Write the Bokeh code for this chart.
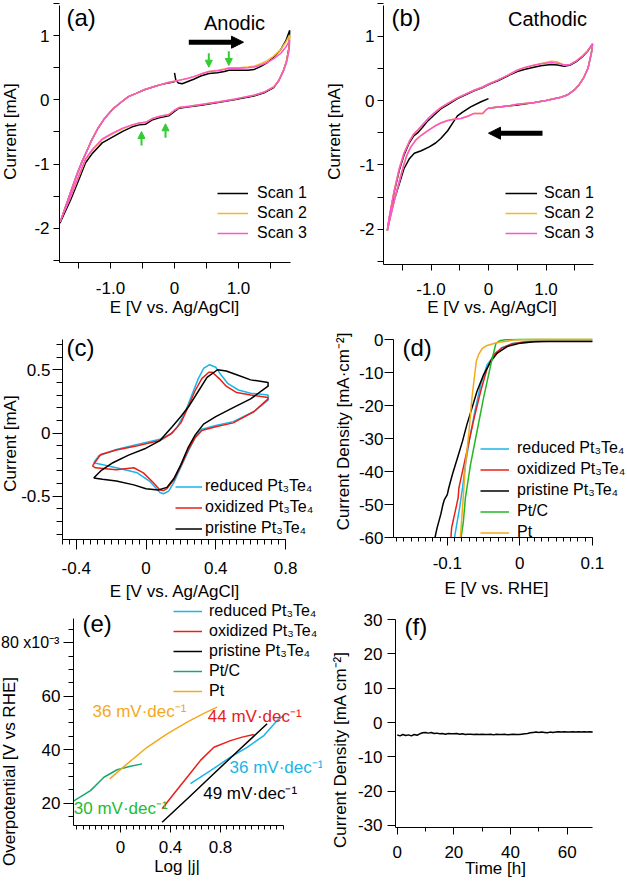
from bokeh.plotting import figure
from bokeh.models import Range1d, FixedTicker, Legend, LegendItem, Label, Arrow, NormalHead
from bokeh.layouts import row, column
from bokeh.embed import file_html
from bokeh.resources import INLINE

FONT = "Liberation Sans"
BLACK = "#000000"
ORANGE_SCAN = "#f7b62a"
PINK = "#ff55cc"
CYAN = "#1ab4e8"
RED = "#e8201a"
GREEN_D = "#22b822"
GREEN_E = "#1aa86e"
GREEN_TXT = "#22bb33"
GOLD = "#f5a81c"
ARROW_GREEN = "#33cc33"

# ---------------- (a) anodic CV scans ----------------
a_scan1_E = [0.0, 0.02, 0.06, 0.12, 0.2, 0.3, 0.41, 0.54, 0.67, 0.78, 0.85, 1.0, 1.15, 1.24, 1.35, 1.45, 1.55, 1.66, 1.74, 1.8,
             1.79, 1.75, 1.7, 1.63, 1.55, 1.4, 1.24, 1.03, 0.93, 0.7, 0.44, 0.23, 0.07, -0.01, -0.09, -0.24, -0.34, -0.45, -0.55,
             -0.66, -0.81, -0.97, -1.13, -1.28, -1.39, -1.49, -1.62, -1.75, -1.79,
             -1.75, -1.68, -1.6, -1.52, -1.44, -1.38, -1.3, -1.2, -1.1, -0.97, -0.85, -0.72, -0.6, -0.46, -0.3, -0.2, -0.1, 0.0]
a_scan1_I = [0.42, 0.31, 0.26, 0.25, 0.28, 0.32, 0.37, 0.41, 0.42, 0.44, 0.46, 0.46, 0.46, 0.47, 0.52, 0.58, 0.66, 0.78, 0.92, 1.08,
             0.82, 0.6, 0.45, 0.3, 0.19, 0.11, 0.06, 0.02, 0.0, -0.04, -0.08, -0.11, -0.13, -0.19, -0.25, -0.28, -0.31, -0.38, -0.39,
             -0.42, -0.49, -0.58, -0.67, -0.83, -0.98, -1.23, -1.55, -1.83, -1.92,
             -1.8, -1.6, -1.37, -1.15, -0.95, -0.82, -0.64, -0.45, -0.3, -0.15, -0.05, 0.05, 0.1, 0.16, 0.21, 0.24, 0.26, 0.28]
a_scan2_E = [0.0, 0.1, 0.2, 0.3, 0.41, 0.54, 0.67, 0.78, 0.85, 1.0, 1.15, 1.24, 1.35, 1.45, 1.55, 1.66, 1.74, 1.8,
             1.79, 1.75, 1.7, 1.63, 1.55, 1.4, 1.24, 1.03, 0.93, 0.7, 0.44, 0.23, 0.07, -0.01, -0.09, -0.24, -0.34, -0.45, -0.55,
             -0.66, -0.81, -0.97, -1.13, -1.28, -1.39, -1.49, -1.62, -1.75, -1.79,
             -1.75, -1.68, -1.6, -1.52, -1.44, -1.38, -1.3, -1.2, -1.1, -0.97, -0.85, -0.72, -0.6, -0.46, -0.3, -0.2, -0.1, 0.0]
a_scan2_I = [0.29, 0.31, 0.33, 0.36, 0.4, 0.44, 0.46, 0.48, 0.5, 0.5, 0.51, 0.52, 0.56, 0.61, 0.68, 0.78, 0.9, 1.01,
             0.8, 0.6, 0.45, 0.3, 0.2, 0.12, 0.07, 0.03, 0.01, -0.03, -0.07, -0.1, -0.12, -0.17, -0.23, -0.26, -0.29, -0.35, -0.36,
             -0.39, -0.45, -0.53, -0.62, -0.78, -0.93, -1.18, -1.5, -1.8, -1.9,
             -1.8, -1.6, -1.37, -1.15, -0.95, -0.82, -0.64, -0.45, -0.3, -0.15, -0.05, 0.05, 0.1, 0.16, 0.21, 0.24, 0.27, 0.29]
a_scan3_E = [0.0, 0.1, 0.2, 0.3, 0.41, 0.54, 0.67, 0.78, 0.85, 1.0, 1.15, 1.24, 1.35, 1.45, 1.55, 1.66, 1.74, 1.8,
             1.79, 1.75, 1.7, 1.63, 1.55, 1.4, 1.24, 1.03, 0.93, 0.7, 0.44, 0.23, 0.07, -0.01, -0.09, -0.24, -0.34, -0.45, -0.55,
             -0.66, -0.81, -0.97, -1.13, -1.28, -1.39, -1.49, -1.62, -1.75, -1.79,
             -1.75, -1.68, -1.6, -1.52, -1.44, -1.38, -1.3, -1.2, -1.1, -0.97, -0.85, -0.72, -0.6, -0.46, -0.3, -0.2, -0.1, 0.0]
a_scan3_I = [0.29, 0.31, 0.33, 0.36, 0.4, 0.44, 0.45, 0.47, 0.49, 0.49, 0.5, 0.51, 0.54, 0.58, 0.64, 0.72, 0.82, 0.93,
             0.76, 0.58, 0.44, 0.3, 0.2, 0.12, 0.07, 0.03, 0.01, -0.03, -0.07, -0.1, -0.12, -0.17, -0.23, -0.26, -0.29, -0.35, -0.36,
             -0.39, -0.44, -0.52, -0.61, -0.77, -0.92, -1.17, -1.5, -1.8, -1.9,
             -1.8, -1.6, -1.37, -1.15, -0.95, -0.82, -0.64, -0.45, -0.3, -0.15, -0.05, 0.05, 0.1, 0.16, 0.21, 0.24, 0.27, 0.29]

# ---------------- (b) cathodic CV scans ----------------
b_scan1_E = [0.0, -0.13, -0.31, -0.45, -0.54, -0.63, -0.71, -0.83, -0.92, -1.03, -1.17, -1.29, -1.38, -1.47, -1.55, -1.64, -1.71, -1.76,
             -1.72, -1.64, -1.55, -1.47, -1.38, -1.3, -1.23, -1.15, -1.06, -0.95, -0.83, -0.7, -0.54, -0.4, -0.25, -0.1, 0.01, 0.17,
             0.33, 0.5, 0.62, 0.75, 0.91, 1.09, 1.2, 1.32, 1.42, 1.52, 1.62, 1.72, 1.81,
             1.79, 1.73, 1.66, 1.58, 1.49, 1.38, 1.26, 1.1, 1.0, 0.8, 0.5, 0.3, 0.1, 0.0]
b_scan1_I = [0.03, -0.02, -0.1, -0.18, -0.24, -0.36, -0.47, -0.59, -0.66, -0.72, -0.78, -0.82, -0.91, -1.06, -1.29, -1.55, -1.81, -2.02,
             -1.8, -1.42, -1.08, -0.85, -0.66, -0.55, -0.5, -0.42, -0.32, -0.23, -0.13, -0.06, 0.03, 0.09, 0.15, 0.2, 0.25, 0.31,
             0.38, 0.45, 0.48, 0.51, 0.54, 0.56, 0.55, 0.53, 0.55, 0.6, 0.67, 0.76, 0.88,
             0.74, 0.5, 0.36, 0.25, 0.16, 0.09, 0.05, 0.02, 0.0, -0.03, -0.07, -0.09, -0.11, -0.12]
b_scan2_E = [0.0, -0.05, -0.1, -0.15, -0.25, -0.35, -0.48, -0.6, -0.71, -0.83, -0.94, -1.06, -1.17, -1.26, -1.35, -1.42, -1.47, -1.55,
             -1.61, -1.69, -1.76,
             -1.72, -1.64, -1.55, -1.47, -1.38, -1.3, -1.23, -1.15, -1.06, -0.95, -0.83, -0.7, -0.54, -0.4, -0.25, -0.1, 0.01, 0.17,
             0.33, 0.5, 0.62, 0.75, 0.91, 1.09, 1.2, 1.32, 1.42, 1.52, 1.62, 1.72, 1.81,
             1.79, 1.73, 1.66, 1.58, 1.49, 1.38, 1.26, 1.1, 1.0, 0.8, 0.5, 0.3, 0.1, 0.0]
b_scan2_I = [-0.12, -0.15, -0.2, -0.2, -0.2, -0.24, -0.28, -0.29, -0.31, -0.35, -0.4, -0.47, -0.54, -0.61, -0.72, -0.85, -0.99, -1.25,
             -1.45, -1.75, -2.02,
             -1.78, -1.4, -1.05, -0.82, -0.64, -0.52, -0.46, -0.38, -0.29, -0.2, -0.11, -0.04, 0.04, 0.1, 0.16, 0.21, 0.26, 0.32,
             0.39, 0.47, 0.51, 0.54, 0.57, 0.61, 0.6, 0.55, 0.56, 0.61, 0.68, 0.77, 0.88,
             0.74, 0.5, 0.36, 0.25, 0.16, 0.09, 0.05, 0.02, 0.0, -0.03, -0.06, -0.09, -0.11, -0.12]
b_scan3_E = [0.0, -0.05, -0.1, -0.15, -0.25, -0.35, -0.48, -0.6, -0.71, -0.83, -0.94, -1.06, -1.17, -1.26, -1.35, -1.42, -1.47, -1.55,
             -1.61, -1.69, -1.76,
             -1.72, -1.64, -1.55, -1.47, -1.38, -1.3, -1.23, -1.15, -1.06, -0.95, -0.83, -0.7, -0.54, -0.4, -0.25, -0.1, 0.01, 0.17,
             0.33, 0.5, 0.62, 0.75, 0.91, 1.09, 1.2, 1.32, 1.42, 1.52, 1.62, 1.72, 1.81,
             1.79, 1.73, 1.66, 1.58, 1.49, 1.38, 1.26, 1.1, 1.0, 0.8, 0.5, 0.3, 0.1, 0.0]
b_scan3_I = [-0.12, -0.15, -0.2, -0.2, -0.2, -0.24, -0.28, -0.29, -0.31, -0.35, -0.4, -0.47, -0.54, -0.61, -0.72, -0.85, -0.99, -1.25,
             -1.45, -1.75, -2.02,
             -1.78, -1.4, -1.05, -0.82, -0.64, -0.52, -0.46, -0.38, -0.29, -0.2, -0.11, -0.04, 0.04, 0.1, 0.16, 0.21, 0.26, 0.32,
             0.39, 0.47, 0.51, 0.54, 0.57, 0.59, 0.58, 0.55, 0.56, 0.61, 0.68, 0.77, 0.88,
             0.74, 0.5, 0.36, 0.25, 0.16, 0.09, 0.05, 0.02, 0.0, -0.03, -0.06, -0.09, -0.11, -0.12]

# ---------------- (c) CV of Pt3Te4 samples ----------------
c_red_E = [-0.3, -0.27, -0.17, -0.05, 0.08, 0.14, 0.18, 0.22, 0.26, 0.3, 0.33, 0.365, 0.4, 0.43, 0.47, 0.53, 0.6, 0.7,
           0.7, 0.62, 0.5, 0.4, 0.32, 0.28, 0.24, 0.2, 0.16, 0.13, 0.1, 0.08, 0.02, -0.05, -0.17, -0.3]
c_red_I = [-0.235, -0.18, -0.13, -0.09, -0.05, -0.01, 0.05, 0.15, 0.29, 0.43, 0.51, 0.54, 0.52, 0.46, 0.39, 0.34, 0.315, 0.3,
           0.26, 0.17, 0.09, 0.06, 0.03, -0.04, -0.15, -0.27, -0.39, -0.46, -0.48, -0.47, -0.38, -0.315, -0.275, -0.235]
c_ox_E = [-0.307, -0.26, -0.17, -0.05, 0.08, 0.15, 0.2, 0.24, 0.28, 0.32, 0.36, 0.38, 0.42, 0.46, 0.52, 0.6, 0.7,
          0.7, 0.62, 0.5, 0.4, 0.32, 0.28, 0.24, 0.2, 0.16, 0.12, 0.1, 0.08, 0.04, -0.015, -0.07, -0.17, -0.29, -0.307]
c_ox_I = [-0.26, -0.17, -0.135, -0.1, -0.06, 0.0, 0.08, 0.2, 0.33, 0.43, 0.48, 0.48, 0.43, 0.37, 0.32, 0.3, 0.28,
          0.27, 0.17, 0.08, 0.05, 0.02, -0.04, -0.14, -0.26, -0.37, -0.44, -0.455, -0.45, -0.39, -0.315, -0.275, -0.29, -0.275, -0.26]
c_pris_E = [-0.3, -0.26, -0.19, -0.1, 0.0, 0.08, 0.15, 0.2, 0.25, 0.3, 0.35, 0.41, 0.46, 0.52, 0.6, 0.7,
            0.7, 0.6, 0.5, 0.4, 0.33, 0.28, 0.24, 0.2, 0.16, 0.12, 0.07, 0.0, -0.07, -0.17, -0.25, -0.3]
c_pris_I = [-0.355, -0.3, -0.235, -0.175, -0.12, -0.06, 0.05, 0.13, 0.22, 0.33, 0.44, 0.5, 0.49, 0.46, 0.42, 0.4,
            0.37, 0.27, 0.2, 0.13, 0.07, -0.02, -0.12, -0.25, -0.36, -0.43, -0.45, -0.44, -0.41, -0.38, -0.365, -0.355]

# ---------------- (d) LSV polarisation curves ----------------
d_red_E = [0.1, 0.03, 0.01, -0.01, -0.025, -0.036, -0.045, -0.054, -0.062, -0.069, -0.075, -0.079, -0.083, -0.087, -0.09]
d_red_J = [-0.5, -0.5, -0.6, -1.2, -2.5, -5.0, -7.6, -13.7, -21.8, -29.8, -37.9, -44.9, -51.0, -56.0, -60.0]
d_ox_E = [0.1, 0.03, 0.01, -0.01, -0.025, -0.036, -0.045, -0.054, -0.063, -0.07, -0.077, -0.082, -0.084, -0.085, -0.089, -0.091,
          -0.092, -0.094, -0.095]
d_ox_J = [-0.5, -0.5, -0.7, -1.3, -2.6, -4.6, -8.7, -15.7, -23.8, -30.8, -37.9, -42.9, -45.0, -47.9, -52.0, -54.0, -55.0, -57.0, -60.0]
d_pris_E = [0.1, 0.04, 0.02, 0.001, -0.017, -0.031, -0.04, -0.05, -0.059, -0.066, -0.073, -0.079, -0.086, -0.093, -0.098, -0.1,
            -0.104, -0.106, -0.109, -0.114, -0.117]
d_pris_J = [-0.6, -0.6, -0.7, -1.1, -2.1, -4.1, -6.6, -10.7, -15.7, -20.8, -25.8, -30.8, -35.9, -40.9, -45.0, -47.0, -48.5, -50.0,
            -53.0, -57.0, -60.0]
d_ptc_E = [0.1, 0.0, -0.02, -0.028, -0.033, -0.04, -0.05, -0.059, -0.068, -0.075, -0.078, -0.081]
d_ptc_J = [0.0, 0.0, -0.1, -0.4, -1.2, -7.6, -17.7, -27.8, -37.9, -47.9, -55.6, -60.0]
d_pt_E = [0.1, 0.02, 0.0, -0.009, -0.017, -0.031, -0.045, -0.052, -0.0565, -0.06, -0.066, -0.07, -0.075, -0.078, -0.082]
d_pt_J = [0.0, 0.0, -0.05, -0.15, -0.5, -0.9, -1.8, -2.8, -4.4, -6.6, -17.7, -27.8, -37.9, -47.9, -60.0]

# ---------------- (e) Tafel plots (overpotential in 1e-3 V) ----------------
e_red_logj = [0.56, 0.72, 0.88, 1.013, 1.147, 1.253, 1.307]
e_red_eta = [27.3, 32.2, 37.2, 40.9, 45.3, 50.9, 52.8]
e_ox_logj = [0.333, 0.427, 0.533, 0.64, 0.747, 0.88, 0.973, 1.067]
e_ox_eta = [17.9, 23.5, 29.7, 36.0, 40.9, 43.4, 44.7, 45.7]
e_pris_logj = [0.333, 0.55, 0.75, 0.95, 1.173]
e_pris_eta = [12.9, 22.3, 31.2, 40.0, 49.7]
e_ptc_logj = [-0.373, -0.24, -0.133, -0.027, 0.08, 0.173]
e_ptc_eta = [20.9, 24.7, 29.7, 32.5, 33.8, 34.7]
e_pt_logj = [-0.086, 0.053, 0.213, 0.373, 0.533, 0.667, 0.773]
e_pt_eta = [29.1, 34.7, 40.9, 45.9, 50.3, 53.6, 55.9]

# ---------------- (f) stability test ----------------
f_time = [0, 1, 2, 3, 4, 5, 6, 7, 8, 9, 10, 11, 12, 13, 14, 15, 16, 17, 18, 19, 20, 21, 22, 23, 24, 25, 26, 27, 28, 29,
          30, 31, 32, 33, 34, 35, 36, 37, 38, 39, 40, 41, 42, 43, 44, 45, 46, 47, 48, 49, 50, 51, 52, 53, 54, 55, 56, 57, 58, 59,
          60, 61, 62, 63, 64, 65, 66, 67, 68, 69]
f_current = [-3.6, -3.9, -3.5, -3.8, -3.6, -3.9, -3.5, -3.7, -3.3, -3.0, -2.9, -3.1, -2.9, -3.2, -3.1, -3.3, -3.2, -3.4, -3.2, -3.3,
             -3.3, -3.2, -3.4, -3.3, -3.5, -3.4, -3.4, -3.5, -3.4, -3.5, -3.4, -3.5, -3.5, -3.4, -3.6, -3.4, -3.5, -3.5, -3.4, -3.6,
             -3.5, -3.4, -3.5, -3.5, -3.4, -3.3, -3.2, -3.0, -2.9, -2.8, -2.9, -2.8, -2.9, -3.0, -2.8, -2.9, -2.8, -2.7, -2.8, -2.7,
             -2.8, -2.8, -2.7, -2.8, -2.7, -2.8, -2.7, -2.8, -2.7, -2.8]

LEG_PT = ["reduced Pt\u2083Te\u2084", "oxidized Pt\u2083Te\u2084", "pristine Pt\u2083Te\u2084", "Pt/C", "Pt"]
SCANS = ["Scan 1", "Scan 2", "Scan 3"]
LW = 1.5


class Panel:
    """One figure whose frame fills its whole canvas; axes are drawn at fixed places inside it."""

    def __init__(self, ox, oy, W, H, xpx, xval, xs, ypx, yval, ys):
        self.ox, self.oy, self.W, self.H = ox, oy, W, H
        self.xpx, self.xval, self.xs = xpx, xval, xs
        self.ypx, self.yval, self.ys = ypx, yval, ys
        xr = (self.dx(ox), self.dx(ox + W))
        yr = (self.dy(oy + H), self.dy(oy))
        p = figure(width=W, height=H, x_range=Range1d(*xr), y_range=Range1d(*yr), min_border=0,
                   output_backend="svg", toolbar_location=None, tools="")
        p.outline_line_color = None
        p.xgrid.visible = False
        p.ygrid.visible = False
        for ax in (p.xaxis[0], p.yaxis[0]):
            ax.axis_line_color = "black"
            ax.axis_line_width = 1
            ax.major_tick_line_color = "black"
            ax.minor_tick_line_color = "black"
            ax.major_tick_in = 0
            ax.minor_tick_in = 0
            ax.major_label_text_font = FONT
            ax.major_label_text_font_size = "17px"
            ax.major_label_text_color = "black"
        self.p = p

    # page pixel -> data value
    def dx(self, px):
        return self.xval + (px - self.xpx) / self.xs

    def dy(self, py):
        return self.yval - (py - self.ypx) / self.ys

    def axes(self, x_left_px, x_right_px, y_bottom_px, y_top_px):
        p = self.p
        p.xaxis[0].fixed_location = self.dy(y_bottom_px)
        p.xaxis[0].bounds = (self.dx(x_left_px), self.dx(x_right_px))
        p.yaxis[0].fixed_location = self.dx(x_left_px)
        p.yaxis[0].bounds = (self.dy(y_bottom_px), self.dy(y_top_px))

    def text(self, px, py, s, size="17px", color="black", align="left", angle=0):
        self.p.add_layout(Label(x=px - self.ox, y=self.oy + self.H - py, x_units="screen", y_units="screen",
                                text=s, text_font=FONT, text_font_size=size, text_color=color,
                                text_align=align, text_baseline="middle", angle=angle, angle_units="deg"))

    def legend(self, items, left_px, bottom_px, gw, standoff, rh):
        lg = Legend(items=[LegendItem(label=l, renderers=[r]) for l, r in items],
                    location=(left_px - self.ox, self.oy + self.H - bottom_px),
                    orientation="vertical", glyph_width=gw, glyph_height=rh, label_height=rh,
                    label_standoff=standoff, spacing=0, padding=0, margin=0,
                    label_text_font=FONT, label_text_font_size="16px", label_text_color="black",
                    background_fill_alpha=0, border_line_alpha=0)
        self.p.add_layout(lg)

    def arrow(self, x0, y0, x1, y1, color, width, head):
        self.p.add_layout(Arrow(x_start=self.dx(x0), y_start=self.dy(y0), x_end=self.dx(x1), y_end=self.dy(y1),
                                start=None, line_width=width, line_color=color, line_alpha=1 if width else 0,
                                end=NormalHead(size=head, fill_color=color, line_color=color) if head else None))


def fmt(v, nd):
    """Igor-style tick text with an ASCII hyphen for negatives."""
    if v == 0:
        return "0"
    s = ("%." + str(nd) + "f") % abs(v)
    return ("-" if v < 0 else "") + s


def ticks(ax, major, minor, tout, mout, standoff, nd=0, blank=()):
    ax.ticker = FixedTicker(ticks=major, minor_ticks=minor)
    ax.major_tick_out = tout
    ax.minor_tick_out = mout
    ax.major_label_standoff = standoff
    ax.major_label_overrides = {v: ("" if v in blank else fmt(v, nd)) for v in major}


def steps(a, b, s, nd):
    out, k = [], 0
    while True:
        v = round(a + k * s, nd)
        if v > b + 1e-9:
            break
        out.append(v)
        k += 1
    return out


# layout grid (page pixels)
R1, R2, R3, BOTTOM = 0, 318, 601, 880
L1, L2, L3 = 312, 322, 322
RIGHT = 626

# ---------------- panel (a) ----------------
A = Panel(0, R1, L1, R2 - R1, 174, 0, 64, 99.3, 0, 64.3)
A.axes(59, 290, 262, 5)
ticks(A.p.xaxis[0], [-1, 0, 1], [-1.5, -0.5, 0.5, 1.5], 6, 6, 13, nd=1)
ticks(A.p.yaxis[0], [-2, -1, 0, 1], [-2.5, -1.5, -0.5, 0.5, 1.5], 6, 6, 4)
ra1 = A.p.line(a_scan1_E, a_scan1_I, line_color=BLACK, line_width=LW)
ra2 = A.p.line(a_scan2_E, a_scan2_I, line_color=ORANGE_SCAN, line_width=LW)
ra3 = A.p.line(a_scan3_E, a_scan3_I, line_color=PINK, line_width=LW)
A.legend(list(zip(SCANS, [ra1, ra2, ra3])), 217, 243, 31, 9, 20)
A.text(10, 131, "Current [mA]", angle=90, align="center")
A.text(174.5, 307, "E [V vs. Ag/AgCl]", align="center")
A.text(66, 17, "(a)", size="24px")
A.text(234, 22.5, "Anodic", size="20px", align="center")
A.arrow(188.3, 41.7, 234, 41.7, "black", 5, 0)
A.arrow(228, 41.7, 243, 41.7, "black", 0, 12)
for (x0, y0, x1, y1) in [(208.3, 52.7, 208.3, 66.7), (228.3, 50.7, 228.3, 65.0),
                         (141.0, 145.0, 141.0, 131.0), (165.0, 137.3, 165.0, 123.3)]:
    A.arrow(x0, y0, x1, y1, ARROW_GREEN, 2, 7)

# ---------------- panel (b) ----------------
B = Panel(L1, R1, RIGHT - L1, R2 - R1, 488, 0, 57.5, 100, 0, 64.4)
B.axes(383, 593, 264, 5)
ticks(B.p.xaxis[0], [-1, 0, 1], [-1.5, -0.5, 0.5, 1.5], 6, 6, 12, nd=1)
ticks(B.p.yaxis[0], [-2, -1, 0, 1], [-2.5, -1.5, -0.5, 0.5, 1.5], 6, 6, 3)
rb1 = B.p.line(b_scan1_E, b_scan1_I, line_color=BLACK, line_width=LW)
rb2 = B.p.line(b_scan2_E, b_scan2_I, line_color=ORANGE_SCAN, line_width=LW)
rb3 = B.p.line(b_scan3_E, b_scan3_I, line_color=PINK, line_width=LW)
B.legend(list(zip(SCANS, [rb1, rb2, rb3])), 505, 243, 32, 7, 20)
B.text(333.5, 131, "Current [mA]", angle=90, align="center")
B.text(492, 307, "E [V vs. Ag/AgCl]", align="center")
B.text(391, 17, "(b)", size="24px")
B.text(547, 18.5, "Cathodic", size="20px", align="center")
B.arrow(542, 132.7, 497, 132.7, "black", 5, 0)
B.arrow(503, 132.7, 488, 132.7, "black", 0, 12)

# ---------------- panel (c) ----------------
C = Panel(0, R2, L2, R3 - R2, 145.5, 0, 174.4, 432.5, 0, 126.5)
C.axes(62, 285, 539, 339)
ticks(C.p.xaxis[0], [-0.4, 0, 0.4, 0.8], steps(-0.48, 0.8, 0.04, 2), 10, 5, 12, nd=1)
ticks(C.p.yaxis[0], [-0.5, 0, 0.5], steps(-0.8, 0.7, 0.1, 1), 10, 6, 2, nd=1)
rc1 = C.p.line(c_red_E, c_red_I, line_color=CYAN, line_width=LW)
rc2 = C.p.line(c_ox_E, c_ox_I, line_color=RED, line_width=LW)
rc3 = C.p.line(c_pris_E, c_pris_I, line_color=BLACK, line_width=LW)
C.legend(list(zip(LEG_PT[:3], [rc1, rc2, rc3])), 175, 538.5, 27, 3, 21)
C.text(9.5, 443, "Current [mA]", angle=90, align="center")
C.text(174.5, 591, "E [V vs. Ag/AgCl]", align="center")
C.text(66, 347, "(c)", size="24px")

# ---------------- panel (d) ----------------
D = Panel(L2, R2, RIGHT - L2, R3 - R2, 519.3, 0, 725, 339, 0, 3.3)
D.axes(393, 592, 537, 339)
ticks(D.p.xaxis[0], [-0.1, 0, 0.1], steps(-0.17, 0.1, 0.01, 2), 8, 4, 11, nd=1)
ticks(D.p.yaxis[0], [-60, -50, -40, -30, -20, -10, 0], [], 9, 0, 1)
rd1 = D.p.line(d_red_E, d_red_J, line_color=CYAN, line_width=LW)
rd2 = D.p.line(d_ox_E, d_ox_J, line_color=RED, line_width=LW)
rd3 = D.p.line(d_pris_E, d_pris_J, line_color=BLACK, line_width=LW)
rd4 = D.p.line(d_ptc_E, d_ptc_J, line_color=GREEN_D, line_width=LW)
rd5 = D.p.line(d_pt_E, d_pt_J, line_color=GOLD, line_width=LW)
D.legend(list(zip(LEG_PT, [rd1, rd2, rd3, rd4, rd5])), 480, 542.8, 29, 8, 21)
D.text(343, 431, "Current Density [mA\u00b7cm\u207b\u00b2]", angle=90, align="center")
D.text(496, 588, "E [V vs. RHE]", align="center")
D.text(402, 347, "(d)", size="24px")

# ---------------- panel (e) ----------------
E = Panel(0, R3, L3, BOTTOM - R3, 120, 0, 125, 642.2, 80, 2.675)
E.axes(73, 283, 825, 618)
ticks(E.p.xaxis[0], [0, 0.4, 0.8], steps(-0.35, 1.3, 0.05, 2), 7, 4, 8, nd=1)
ticks(E.p.yaxis[0], [20, 40, 60, 80], steps(15, 85, 5, 0), 10, 5, 3, blank=(80,))
re1 = E.p.line(e_red_logj, e_red_eta, line_color=CYAN, line_width=LW)
re2 = E.p.line(e_ox_logj, e_ox_eta, line_color=RED, line_width=LW)
re3 = E.p.line(e_pris_logj, e_pris_eta, line_color=BLACK, line_width=LW)
re4 = E.p.line(e_ptc_logj, e_ptc_eta, line_color=GREEN_E, line_width=LW)
re5 = E.p.line(e_pt_logj, e_pt_eta, line_color=GOLD, line_width=LW)
E.legend(list(zip(LEG_PT, [re1, re2, re3, re4, re5])), 173, 701, 29, 7, 20)
E.text(0.5, 642.2, "80 x10\u207b\u00b3", size="16px")
E.text(9, 771, "Overpotential [V vs RHE]", angle=90, align="center")
E.text(176.5, 866, "Log |j|", align="center")
E.text(82, 623, "(e)", size="24px")
E.text(92, 710.7, "36 mV\u00b7dec\u207b\u00b9", color=GOLD)
E.text(207.3, 716, "44 mV\u00b7dec\u207b\u00b9", color=RED)
E.text(229, 766.7, "36 mV\u00b7dec\u207b\u00b9", color=CYAN)
E.text(202.7, 793.3, "49 mV\u00b7dec\u207b\u00b9", color=BLACK)
E.text(73.3, 808.3, "30 mV\u00b7dec\u207b\u00b9", color=GREEN_TXT)

# ---------------- panel (f) ----------------
F = Panel(L3, R3, RIGHT - L3, BOTTOM - R3, 396.7, 0, 2.833, 722, 0, 3.433)
F.axes(395, 592, 826.7, 619)
ticks(F.p.xaxis[0], [0, 20, 40, 60], [10, 30, 50], 7, 4, 12)
ticks(F.p.yaxis[0], [-30, -20, -10, 0, 10, 20, 30], [], 8, 0, 5)
F.p.line(f_time, f_current, line_color=BLACK, line_width=LW)
F.text(340, 749, "Current Density [mA cm\u207b\u00b2]", angle=90, align="center")
F.text(495, 868, "Time [h]", align="center")
F.text(404, 626, "(f)", size="24px")

layout = column(row(A.p, B.p), row(C.p, D.p), row(E.p, F.p))
open("out.html", "w").write(file_html(layout, INLINE))
